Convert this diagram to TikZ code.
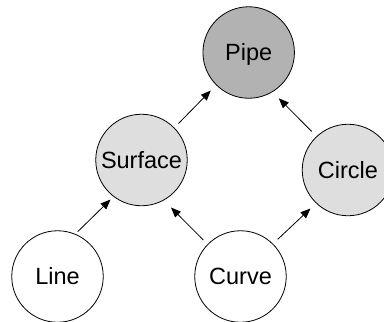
\documentclass[tikz,border=0pt]{standalone}
\usepackage{fontspec}
\setmainfont{Liberation Sans}
\usetikzlibrary{arrows.meta,calc}
\begin{document}
\begin{tikzpicture}[x=1pt,y=-1pt,
  nodecirc/.style={circle,draw=black,line width=0.8pt,minimum size=91.5pt,inner sep=0pt,
    font=\fontsize{23.5pt}{28pt}\selectfont,text height=16.8pt,text depth=0pt},
  darkfill/.style={fill=black!30},
  lightfill/.style={fill=black!13},
  whitefill/.style={fill=white},
  arr/.style={line width=0.8pt,-{Triangle[length=10pt,width=8pt]}}]
\useasboundingbox (0,0) rectangle (384,322);
\node[nodecirc,darkfill]  (pipe)    at (248.7,52.5) {Pipe};
\node[nodecirc,lightfill] (surface) at (141.5,160) {Surface};
\node[nodecirc,lightfill] (circ)    at (348,170) {Circle};
\node[nodecirc,whitefill] (line)    at (57.5,276.5) {Line};
\node[nodecirc,whitefill] (curve)   at (240.5,276.5) {Curve};
\draw[arr] ($(line)+(20.2,-44.8)$) -- ($(surface)+(-31,39.5)$);
\draw[arr] ($(curve)+(-37.2,-36.5)$) -- ($(surface)+(29.5,47.5)$);
\draw[arr] ($(curve)+(37.2,-37.2)$) -- ($(circ)+(-37.5,38.5)$);
\draw[arr] ($(surface)+(37,-36.5)$) -- ($(pipe)+(-37.9,38)$);
\draw[arr] ($(circ)+(-36.3,-38.5)$) -- ($(pipe)+(30.1,45.8)$);
\end{tikzpicture}
\end{document}
